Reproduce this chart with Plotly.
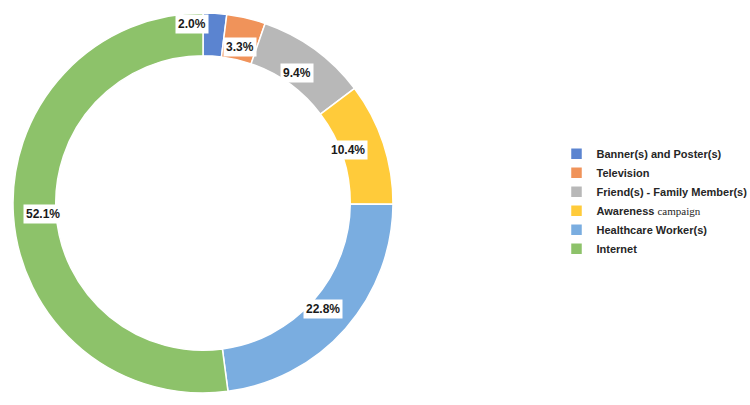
import math
import plotly.graph_objects as go

categories = ["Banner(s) and Poster(s)", "Television", "Friend(s) - Family Member(s)",
              "Awareness campaign", "Healthcare Worker(s)", "Internet"]
values = [2.0, 3.3, 9.4, 10.4, 22.8, 52.1]
legend_names = ["<b>Banner(s) and Poster(s)</b>", "<b>Television</b>",
                "<b>Friend(s) - Family Member(s)</b>",
                "<b>Awareness</b> <span style='font-family:Liberation Serif;font-weight:normal'>campaign</span>",
                "<b>Healthcare Worker(s)</b>", "<b>Internet</b>"]
colors = ["#5B84D0", "#F0935A", "#B8B8B8", "#FFCB3A", "#7AADE0", "#8DC26A"]

W, H = 750, 405
cx, cy, R = 203, 203, 190
hole = 0.775

fig = go.Figure(go.Pie(
    labels=legend_names, values=values, sort=False, direction="clockwise", rotation=0,
    hole=hole, textinfo="none", hoverinfo="label+percent",
    marker=dict(colors=colors, line=dict(color="white", width=1.5)),
    domain=dict(x=[(cx - R) / W, (cx + R) / W], y=[1 - (cy + R) / H, 1 - (cy - R) / H]),
))

total = sum(values)
cum = 0
rlab = R * (1 + hole) / 2 - 8
label_shift = [(-21, 19), (0, 0), (0, 0), (-7, 2), (0, 0), (0, 0)]
for v, (dx, dy) in zip(values, label_shift):
    ang = 2 * math.pi * (cum + v / 2) / total
    cum += v
    px = cx + rlab * math.sin(ang) + dx
    py = cy - rlab * math.cos(ang) - dy
    fig.add_annotation(x=px / W, y=1 - py / H, xref="paper", yref="paper",
                       xanchor="center", yanchor="middle",
                       text=f"<b>{v:.1f}%</b>", showarrow=False,
                       font=dict(family="Liberation Sans, Arial", size=12, color="#1a1a1a"),
                       bgcolor="white", borderpad=2)

fig.update_layout(
    width=W, height=H, margin=dict(l=0, r=0, t=0, b=0, autoexpand=False),
    paper_bgcolor="white", plot_bgcolor="white",
    showlegend=True,
    legend=dict(x=0.742, y=0.503, xanchor="left", yanchor="middle",
                font=dict(family="Liberation Sans, Arial", size=11, color="#262626"),
                tracegroupgap=0, itemwidth=30, traceorder="normal"),
)
fig.write_html("out.html")
